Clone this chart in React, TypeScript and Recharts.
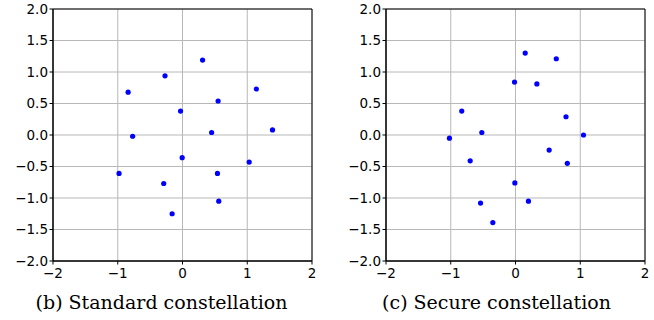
import React from "react";
import { ScatterChart, Scatter, XAxis, YAxis, CartesianGrid, ReferenceArea } from "recharts";

const standardX = [0.31, -0.27, -0.84, 1.14, 0.55, -0.03, -0.77, 0.45, 1.39, -0.005, 1.03, -0.98, 0.54, -0.29, 0.56, -0.16];
const standardY = [1.19, 0.94, 0.68, 0.73, 0.54, 0.38, -0.02, 0.04, 0.08, -0.36, -0.43, -0.61, -0.61, -0.77, -1.05, -1.25];
const secureX = [0.15, 0.63, -0.015, 0.33, -0.83, 0.78, -0.52, -1.02, 1.05, 0.52, -0.70, 0.80, -0.01, 0.20, -0.54, -0.35];
const secureY = [1.30, 1.21, 0.84, 0.81, 0.38, 0.29, 0.04, -0.05, 0.0, -0.24, -0.41, -0.45, -0.76, -1.05, -1.08, -1.39];
const xTicks = [-2, -1, 0, 1, 2];
const yTicks = [-2, -1.5, -1, -0.5, 0, 0.5, 1, 1.5, 2];
const captions = ["(b) Standard constellation", "(c) Secure constellation"];

const toPoints = (xs: number[], ys: number[]) => xs.map((x, i) => ({ x, y: ys[i] }));

const tickFont = { fontFamily: "DejaVu Sans", fontSize: 13.5, fill: "#000" };
const fmtX = (v: number) => String(v).replace("-", "\u2212");
const fmtY = (v: number) => v.toFixed(1).replace("-", "\u2212");

const Dot = (props: any) => <circle cx={props.cx} cy={props.cy} r={2.6} fill="#0000ff" />;

function Panel({ data, yWidth, rightMargin }: { data: { x: number; y: number }[]; yWidth: number; rightMargin: number }) {
  return (
    <ScatterChart width={327} height={285} margin={{ top: 9, right: rightMargin, bottom: 0, left: 0 }}>
      <CartesianGrid stroke="#b8b8b8" strokeWidth={1} horizontalValues={yTicks} verticalValues={xTicks} />
      <XAxis
        type="number"
        dataKey="x"
        domain={[-2, 2]}
        ticks={xTicks}
        tickFormatter={fmtX}
        tick={tickFont}
        tickSize={3.5}
        tickMargin={4}
        height={24}
        stroke="#000"
        allowDataOverflow
      />
      <YAxis
        type="number"
        dataKey="y"
        domain={[-2, 2]}
        ticks={yTicks}
        tickFormatter={fmtY}
        tick={tickFont}
        tickSize={3.5}
        tickMargin={1.5}
        width={yWidth}
        stroke="#000"
        allowDataOverflow
      />
      <ReferenceArea x1={-2} x2={2} y1={-2} y2={2} fill="none" stroke="#000" strokeWidth={1} ifOverflow="visible" />
      <Scatter data={data} shape={<Dot />} isAnimationActive={false} />
    </ScatterChart>
  );
}

export default function App() {
  const capStyle: React.CSSProperties = {
    position: "absolute",
    top: 288,
    fontFamily: "DejaVu Serif",
    fontSize: 19,
    color: "#000",
    textAlign: "center",
    width: 327,
    lineHeight: "28px",
    whiteSpace: "nowrap",
  };
  return (
    <div style={{ position: "absolute", left: 0, top: 0, width: 654, height: 320, background: "#fff" }}>
      <div style={{ position: "absolute", left: 0, top: 0 }}>
        <Panel data={toPoints(standardX, standardY)} yWidth={53} rightMargin={15} />
      </div>
      <div style={{ position: "absolute", left: 327, top: 0 }}>
        <Panel data={toPoints(secureX, secureY)} yWidth={59} rightMargin={9} />
      </div>
      <div style={{ ...capStyle, left: -2 }}>{captions[0]}</div>
      <div style={{ ...capStyle, left: 333 }}>{captions[1]}</div>
    </div>
  );
}
